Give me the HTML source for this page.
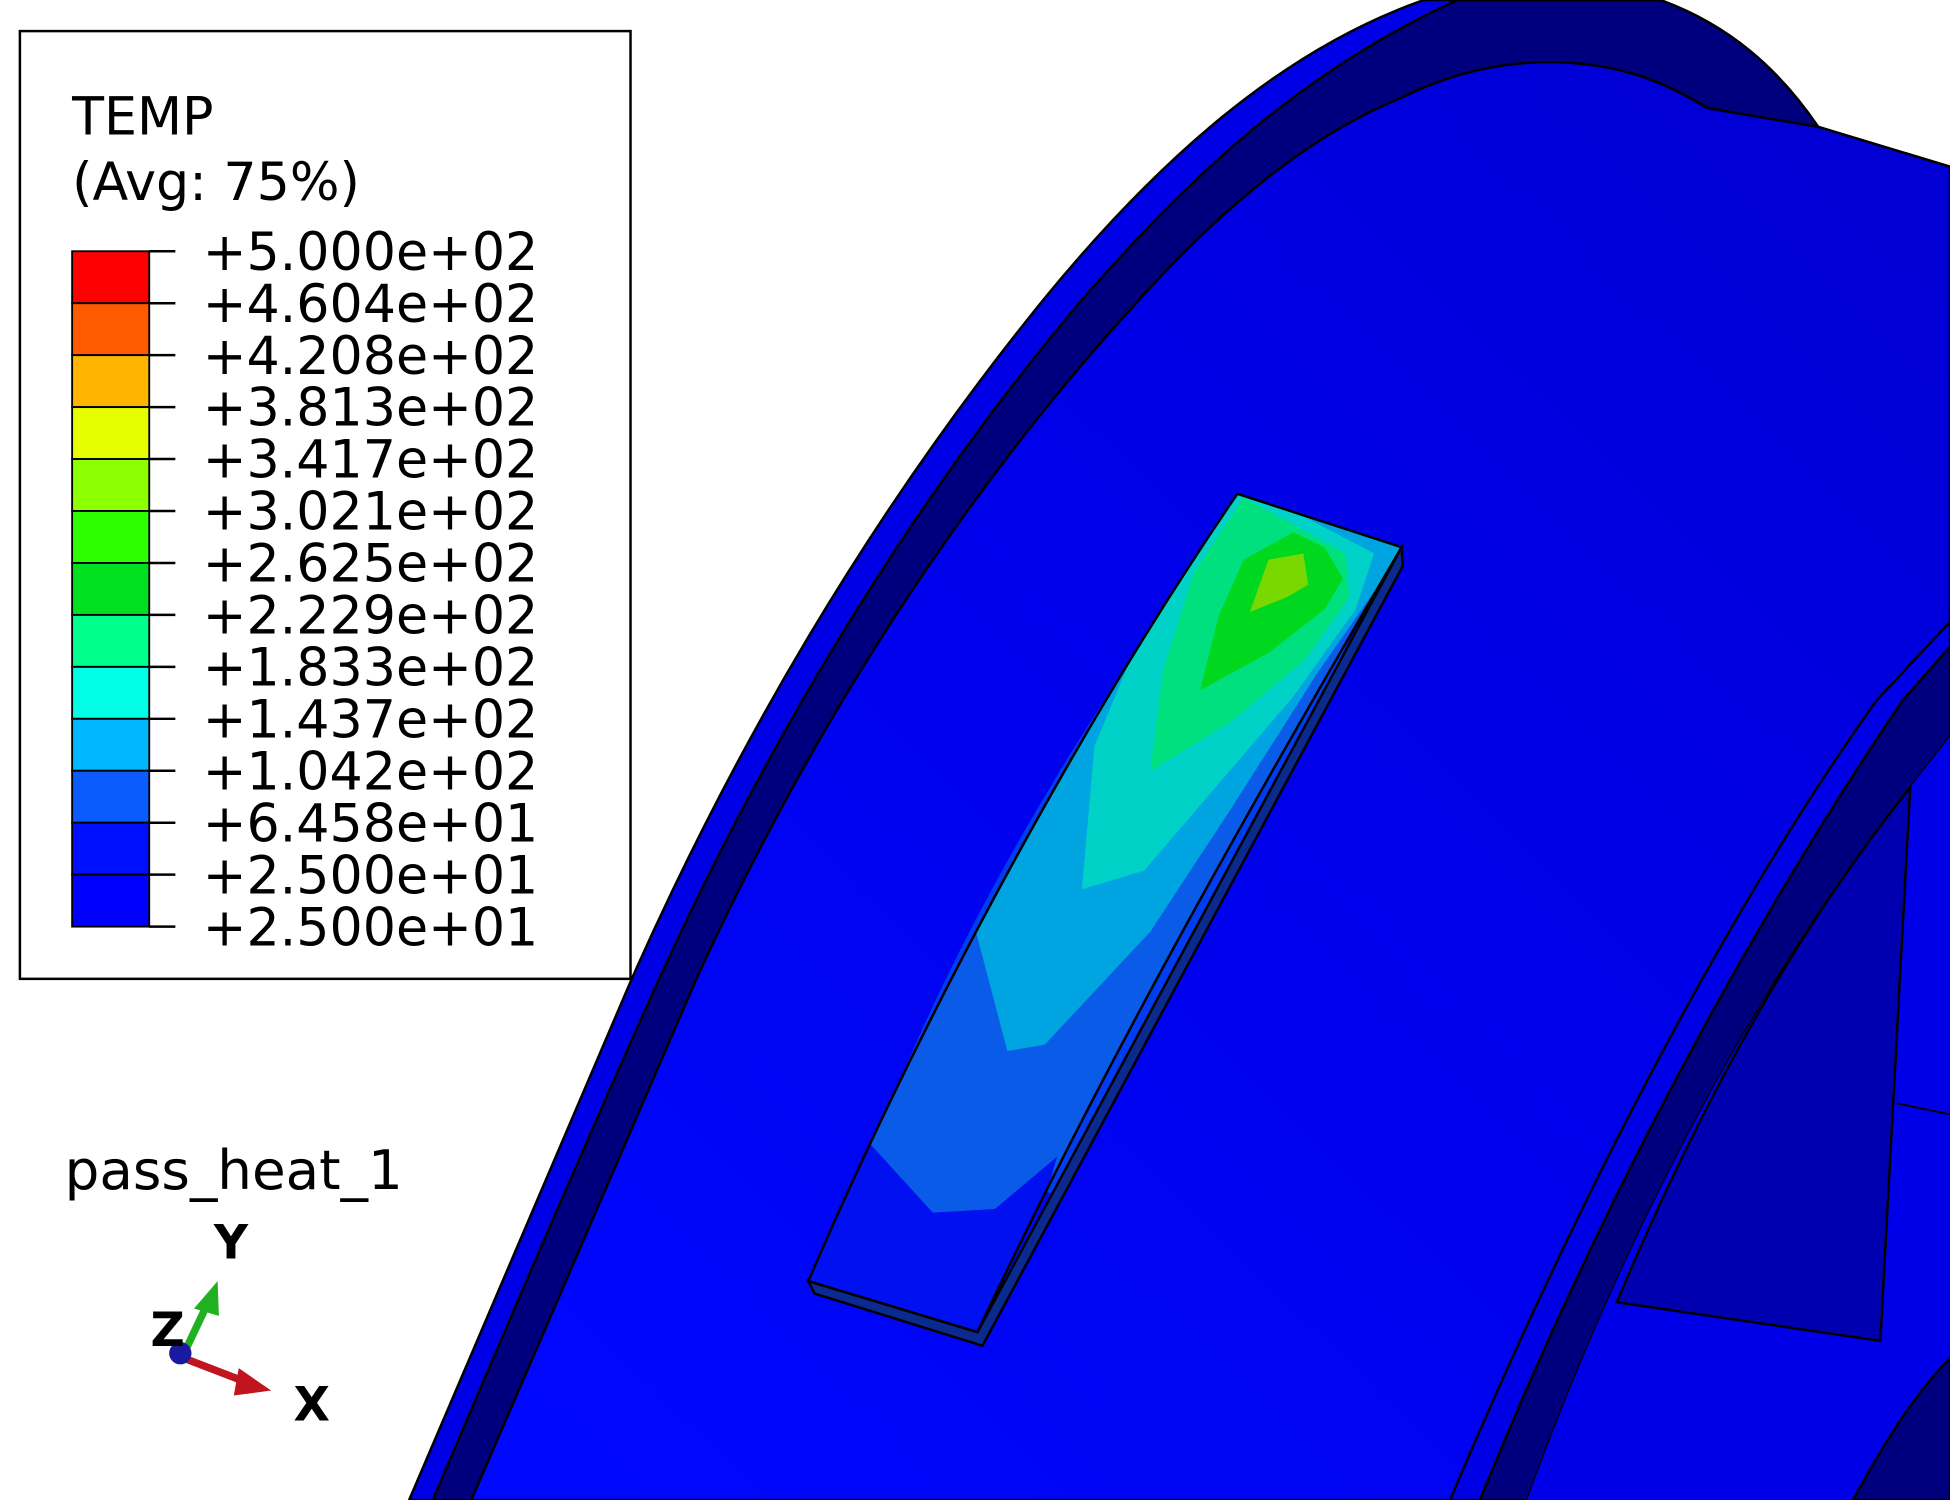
<!DOCTYPE html>
<html><head><meta charset="utf-8">
<style>
html,body{margin:0;padding:0;background:#fff;}
svg{display:block;}
text{font-family:"DejaVu Sans","Liberation Sans",sans-serif;}
</style></head>
<body>
<svg id="chart" width="1950" height="1500" viewBox="0 0 1568 1206" preserveAspectRatio="none" xmlns="http://www.w3.org/2000/svg">
  <defs>
    <clipPath id="padClip"><path d="M650,1030 C740,820 870,580 995,397 L1127,440 C1010,640 890,850 786,1071 Z"/></clipPath>
    <linearGradient id="surfGrad" x1="0" y1="1" x2="1" y2="0">
      <stop offset="0" stop-color="#0008ff"/>
      <stop offset="0.6" stop-color="#0000e8"/>
      <stop offset="1" stop-color="#0000d0"/>
    </linearGradient>
  </defs>
  <rect width="1568" height="1206" fill="#fff"/>
  <g>
    <path d="M329,1206 C390,1060 450,920 508,787 C600,580 710,400 839,241 C930,130 1030,40 1145,0 L1335,0 C1390,20 1430,55 1462,102 L1568,134 L1568,1206 Z" fill="#0000e6" stroke="#000" stroke-width="2"/>
    <path d="M348,1206 C410,1060 470,920 530,787 C620,590 735,400 870,241 C950,150 1040,60 1172,0 L1335,0 C1390,20 1430,55 1462,102 L1373,87 C1330,60 1290,50 1245,50 C1200,50 1160,62 1126,79 C1050,110 980,170 916,241 C770,400 650,590 560,787 C510,900 450,1040 379,1206 Z" fill="#00007e" stroke="#000" stroke-width="2"/>
    <path d="M379,1206 C450,1040 510,900 560,787 C650,590 770,400 916,241 C980,170 1050,110 1126,79 C1160,62 1200,50 1245,50 C1290,50 1330,60 1373,87 L1462,102 L1568,134 L1568,1206 Z" fill="url(#surfGrad)" stroke="#000" stroke-width="2"/>
    <path d="M1166,1206 C1270,960 1390,730 1509,563 L1568,500 L1568,520 L1530,563 C1410,740 1290,960 1190,1206 Z" fill="#0000e6" stroke="#000" stroke-width="2"/>
    <path d="M1190,1206 C1290,960 1410,740 1530,563 L1568,520 L1568,592 L1536,633 C1420,780 1310,980 1228,1206 Z" fill="#00007e" stroke="#000" stroke-width="2"/>
    <path d="M1228,1206 C1310,980 1420,780 1536,633 L1568,592 L1568,1206 Z" fill="#0000e8"/>
    <path d="M1300,1047 C1370,880 1450,740 1536,633 L1512,1078 Z" fill="#0000b0" stroke="#000" stroke-width="2"/>
    <line x1="1525" y1="887" x2="1568" y2="896" stroke="#000" stroke-width="1.5"/>
    <path d="M1490,1206 C1515,1160 1540,1120 1568,1092 L1568,1206 Z" fill="#00007e" stroke="#000" stroke-width="2"/>
    <path d="M700,930 C760,760 880,560 990,420 L1100,480 C1040,620 930,820 850,960 Z" fill="#0050f0" opacity="0.75"/>
    <g>
      <path d="M650,1030 L655,1040 L790,1082 L1128,455 L1127,440 L786,1071 Z" fill="#0a2a90" stroke="#000" stroke-width="2"/>
      <g clip-path="url(#padClip)">
        <rect x="600" y="380" width="560" height="720" fill="#0a5ce8"/>
        <polygon points="640,1040 700,920 750,975 800,972 850,930 800,1100" fill="#0010f0"/>
        <polygon points="785,750 810,845 840,840 925,749 990,650 1060,540 1130,440 1000,380 780,740" fill="#00a4e0"/>
        <polygon points="870,715 920,700 980,630 1040,560 1090,490 1105,445 1000,390 930,480 880,600" fill="#00d2c8"/>
        <polygon points="925,620 990,580 1050,530 1085,480 1082,445 1000,400 960,460 935,540" fill="#00e07e"/>
        <polygon points="965,555 1020,525 1065,490 1080,465 1065,440 1040,428 1000,450 980,495" fill="#00d820"/>
        <polygon points="1005,492 1035,480 1052,470 1048,445 1020,450" fill="#78d800"/>
      </g>
      <path d="M650,1030 C740,820 870,580 995,397 L1127,440 C1010,640 890,850 786,1071 Z" fill="none" stroke="#000" stroke-width="2"/>
    </g>
  </g>
  <g id="legend">
    <rect x="16" y="25" width="491" height="762" fill="#fff" stroke="#000" stroke-width="2"/>
    <text x="58" y="108" font-size="42" fill="#000">TEMP</text>
    <text x="58" y="161" font-size="42" fill="#000">(Avg: 75%)</text>
  </g>
  <g>
    <text x="52" y="956" font-size="44" fill="#000">pass_heat_1</text>
    <line x1="148" y1="1092" x2="200" y2="1112" stroke="#c0141e" stroke-width="6"/>
    <polygon points="218,1118 192,1100 188,1122" fill="#c0141e"/>
    <line x1="148" y1="1088" x2="166" y2="1050" stroke="#20b020" stroke-width="6"/>
    <polygon points="175,1030 156,1052 176,1058" fill="#20b020"/>
    <circle cx="145" cy="1088" r="9" fill="#1a1aa0"/>
    <text x="236" y="1142" font-size="38" font-weight="bold" fill="#000">X</text>
    <text x="172" y="1012" font-size="38" font-weight="bold" fill="#000">Y</text>
    <text x="121" y="1082" font-size="38" font-weight="bold" fill="#000">Z</text>
  </g>
</svg>
<script>
const legendValues = ["+5.000e+02","+4.604e+02","+4.208e+02","+3.813e+02","+3.417e+02","+3.021e+02","+2.625e+02","+2.229e+02","+1.833e+02","+1.437e+02","+1.042e+02","+6.458e+01","+2.500e+01","+2.500e+01"];
const legendColors = ["#ff0000","#ff5a00","#ffb400","#e6ff00","#8cff00","#2eff00","#00e020","#00ff8c","#00ffe6","#00b8ff","#0a5cff","#0010ff","#0000ff"];
const NS = "http://www.w3.org/2000/svg";
const legend = document.getElementById("legend");
const barX = 58, barW = 62, barTop = 202, barBottom = 745;
const segH = (barBottom - barTop) / legendColors.length;
function yAt(i){ return barTop + i * segH; }
legendColors.forEach((c, i) => {
  const r = document.createElementNS(NS, "rect");
  r.setAttribute("x", barX); r.setAttribute("y", yAt(i));
  r.setAttribute("width", barW); r.setAttribute("height", segH);
  r.setAttribute("fill", c); r.setAttribute("stroke", "#000"); r.setAttribute("stroke-width", "1.5");
  
  
  legend.appendChild(r);
});
legendValues.forEach((v, i) => {
  const y = yAt(i);
  const l = document.createElementNS(NS, "line");
  l.setAttribute("x1", barX + barW); l.setAttribute("x2", barX + barW + 21);
  l.setAttribute("y1", y); l.setAttribute("y2", y);
  l.setAttribute("stroke", "#000"); l.setAttribute("stroke-width", "2");
  
  
  legend.appendChild(l);
  const t = document.createElementNS(NS, "text");
  t.setAttribute("x", 163); t.setAttribute("y", y + 15);
  t.setAttribute("font-size", "42"); t.setAttribute("fill", "#000");
  t.textContent = v;
  
  
  legend.appendChild(t);
});
</script>
</body></html>
